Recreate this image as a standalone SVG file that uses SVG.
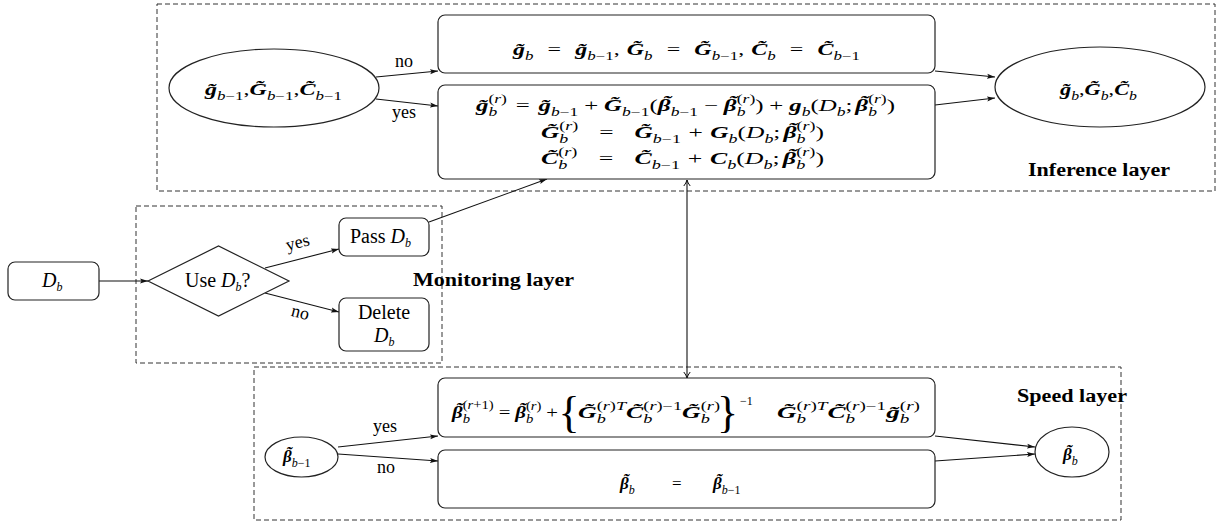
<svg xmlns="http://www.w3.org/2000/svg" width="1217" height="523" viewBox="0 0 1217 523">
<style>
text{font-family:"Liberation Serif","DejaVu Serif",serif;fill:#000}
.m{font-size:17px}
.s{font-size:12px}
.b{font-weight:bold;font-style:italic}
.it{font-style:italic}
.lb{font-size:20px}
.el{font-size:18px}
.ly{font-size:18px;font-weight:bold}
.dash{fill:none;stroke:#333;stroke-width:1;stroke-dasharray:5 3}
.nd{fill:#fff;stroke:#222;stroke-width:1.2}
.cn line{stroke:#111;stroke-width:1.1;marker-end:url(#ah)}
</style>
<defs>
<marker id="ah" viewBox="0 0 8 6" markerWidth="8" markerHeight="6" refX="8" refY="3" orient="auto" markerUnits="userSpaceOnUse"><path d="M0,0.5 L8,3 L0,5.5 L1.6,3 z" fill="#111"/></marker>
<marker id="oa" viewBox="0 0 8 8" markerWidth="8" markerHeight="8" refX="7" refY="4" orient="auto-start-reverse" markerUnits="userSpaceOnUse"><path d="M1,0.8 Q4,3.2 7,4 Q4,4.8 1,7.2" fill="none" stroke="#111" stroke-width="1"/></marker>
</defs>
<rect width="1217" height="523" fill="#fff"/>

<g id="inference-layer">
<rect class="dash" x="157" y="4" width="1058" height="187"/>
<text class="ly" x="1028" y="176" textLength="142" lengthAdjust="spacingAndGlyphs">Inference layer</text>
</g>
<g id="monitoring-layer">
<rect class="dash" x="136" y="206" width="306" height="157"/>
<text class="ly" x="413" y="286" textLength="161" lengthAdjust="spacingAndGlyphs">Monitoring layer</text>
</g>
<g id="speed-layer">
<rect class="dash" x="254" y="367" width="867" height="153"/>
<text class="ly" x="1017" y="402" textLength="110" lengthAdjust="spacingAndGlyphs">Speed layer</text>
</g>

<g class="cn" id="connectors">
<line x1="99" y1="281" x2="148" y2="281"/>
<line x1="265" y1="268" x2="339" y2="249"/>
<line x1="265" y1="293" x2="339" y2="312"/>
<line x1="429" y1="222" x2="547" y2="179"/>
<line x1="376" y1="77" x2="438" y2="71"/>
<line x1="376" y1="99" x2="438" y2="106"/>
<line x1="935" y1="71" x2="995" y2="77"/>
<line x1="935" y1="105" x2="995" y2="98"/>
<line x1="687" y1="180" x2="687" y2="378" style="marker-end:url(#oa);marker-start:url(#oa)"/>
<line x1="338" y1="447" x2="438" y2="436"/>
<line x1="338" y1="454" x2="438" y2="461"/>
<line x1="935" y1="436" x2="1035" y2="447"/>
<line x1="935" y1="461" x2="1035" y2="454"/>
<text class="el" x="395" y="67">no</text>
<text class="el" x="392" y="118">yes</text>
<text class="el" transform="translate(299,248) rotate(-14)" text-anchor="middle">yes</text>
<text class="el" transform="translate(299,318) rotate(14)" text-anchor="middle">no</text>
<text class="el" x="373" y="432">yes</text>
<text class="el" x="377" y="473">no</text>
</g>

<g id="node-db">
<rect class="nd" x="8" y="262" width="91" height="38" rx="7"/>
<text class="lb" x="42" y="287"><tspan class="it">D</tspan><tspan class="s it" y="291">b</tspan></text>
</g>
<g id="node-use">
<polygon class="nd" points="148,281 218.5,246 289,281 218.5,316"/>
<text class="lb" x="185" y="287">Use <tspan class="it">D</tspan><tspan class="s it" y="291">b</tspan><tspan y="287">?</tspan></text>
</g>
<g id="node-pass">
<rect class="nd" x="339" y="218" width="90" height="38" rx="7"/>
<text class="lb" x="350" y="243">Pass <tspan class="it">D</tspan><tspan class="s it" y="247">b</tspan></text>
</g>
<g id="node-delete">
<rect class="nd" x="339" y="298" width="90" height="53" rx="7"/>
<text class="lb" x="384" y="319" text-anchor="middle">Delete</text>
<text class="lb" x="374" y="342"><tspan class="it">D</tspan><tspan class="s it" y="346">b</tspan></text>
</g>

<g id="node-prev-gc">
<ellipse class="nd" cx="274" cy="88" rx="105" ry="39"/>
<text class="m" x="205" y="95" textLength="137" lengthAdjust="spacingAndGlyphs"><tspan class="b">g&#x303;</tspan><tspan class="s" y="99.5"><tspan class="it">b</tspan>−1</tspan><tspan y="95">,</tspan><tspan class="b">G&#x303;</tspan><tspan class="s" y="99.5"><tspan class="it">b</tspan>−1</tspan><tspan y="95">,</tspan><tspan class="b">C&#x303;</tspan><tspan class="s" y="99.5"><tspan class="it">b</tspan>−1</tspan></text>
</g>
<g id="node-keep">
<rect class="nd" x="438" y="15" width="497" height="58" rx="7"/>
<text class="m" x="513" y="55" textLength="347" lengthAdjust="spacingAndGlyphs"><tspan class="b">g&#x303;</tspan><tspan class="s it" y="59.5">b</tspan><tspan y="55" dx="10">=</tspan><tspan class="b" dx="10">g&#x303;</tspan><tspan class="s" y="59.5"><tspan class="it">b</tspan>−1</tspan><tspan y="55">,</tspan><tspan class="b" dx="5">G&#x303;</tspan><tspan class="s it" y="59.5">b</tspan><tspan y="55" dx="10">=</tspan><tspan class="b" dx="10">G&#x303;</tspan><tspan class="s" y="59.5"><tspan class="it">b</tspan>−1</tspan><tspan y="55">,</tspan><tspan class="b" dx="5">C&#x303;</tspan><tspan class="s it" y="59.5">b</tspan><tspan y="55" dx="10">=</tspan><tspan class="b" dx="10">C&#x303;</tspan><tspan class="s" y="59.5"><tspan class="it">b</tspan>−1</tspan></text>
</g>
<g id="node-update">
<rect class="nd" x="438" y="85" width="497" height="94" rx="7"/>
<text class="m" x="476" y="111" textLength="419" lengthAdjust="spacingAndGlyphs"><tspan class="b">g&#x303;</tspan><tspan class="s it" y="115.5">b</tspan><tspan class="s" dx="-6" y="103">(<tspan class="it">r</tspan>)</tspan><tspan y="111" dx="6">=</tspan><tspan class="b" dx="6">g&#x303;</tspan><tspan class="s" y="115.5"><tspan class="it">b</tspan>−1</tspan><tspan y="111" dx="4">+</tspan><tspan class="b" dx="4">G&#x303;</tspan><tspan class="s" y="115.5"><tspan class="it">b</tspan>−1</tspan><tspan y="111">(</tspan><tspan class="b">β</tspan><tspan class="b" dx="-5.6" dy="-4">˜</tspan><tspan class="s" y="115.5"><tspan class="it">b</tspan>−1</tspan><tspan y="111" dx="4">−</tspan><tspan class="b" dx="4">β</tspan><tspan class="b" dx="-5.6" dy="-4">˜</tspan><tspan class="s it" y="115.5">b</tspan><tspan class="s" dx="-6" y="103">(<tspan class="it">r</tspan>)</tspan><tspan y="111">)</tspan><tspan dx="4">+</tspan><tspan class="b" dx="4">g</tspan><tspan class="s it" y="115.5">b</tspan><tspan y="111">(</tspan><tspan class="it">D</tspan><tspan class="s it" y="115.5">b</tspan><tspan y="111">;</tspan><tspan class="b" dx="2">β</tspan><tspan class="b" dx="-5.6" dy="-4">˜</tspan><tspan class="s it" y="115.5">b</tspan><tspan class="s" dx="-6" y="103">(<tspan class="it">r</tspan>)</tspan><tspan y="111">)</tspan></text>
<text class="m" x="541" y="138" textLength="283" lengthAdjust="spacingAndGlyphs"><tspan class="b">G&#x303;</tspan><tspan class="s it" y="142.5">b</tspan><tspan class="s" dx="-6" y="130">(<tspan class="it">r</tspan>)</tspan><tspan y="138" dx="14">=</tspan><tspan class="b" dx="14">G&#x303;</tspan><tspan class="s" y="142.5"><tspan class="it">b</tspan>−1</tspan><tspan y="138" dx="5">+</tspan><tspan class="b" dx="5">G</tspan><tspan class="s it" y="142.5">b</tspan><tspan y="138">(</tspan><tspan class="it">D</tspan><tspan class="s it" y="142.5">b</tspan><tspan y="138">;</tspan><tspan class="b" dx="2">β</tspan><tspan class="b" dx="-5.6" dy="-4">˜</tspan><tspan class="s it" y="142.5">b</tspan><tspan class="s" dx="-6" y="130">(<tspan class="it">r</tspan>)</tspan><tspan y="138">)</tspan></text>
<text class="m" x="541" y="164" textLength="283" lengthAdjust="spacingAndGlyphs"><tspan class="b">C&#x303;</tspan><tspan class="s it" y="168.5">b</tspan><tspan class="s" dx="-6" y="156">(<tspan class="it">r</tspan>)</tspan><tspan y="164" dx="14">=</tspan><tspan class="b" dx="14">C&#x303;</tspan><tspan class="s" y="168.5"><tspan class="it">b</tspan>−1</tspan><tspan y="164" dx="5">+</tspan><tspan class="b" dx="5">C</tspan><tspan class="s it" y="168.5">b</tspan><tspan y="164">(</tspan><tspan class="it">D</tspan><tspan class="s it" y="168.5">b</tspan><tspan y="164">;</tspan><tspan class="b" dx="2">β</tspan><tspan class="b" dx="-5.6" dy="-4">˜</tspan><tspan class="s it" y="168.5">b</tspan><tspan class="s" dx="-6" y="156">(<tspan class="it">r</tspan>)</tspan><tspan y="164">)</tspan></text>
</g>
<g id="node-gc">
<ellipse class="nd" cx="1100" cy="87" rx="105" ry="40"/>
<text class="m" x="1060" y="95" textLength="77" lengthAdjust="spacingAndGlyphs"><tspan class="b">g&#x303;</tspan><tspan class="s it" y="99.5">b</tspan><tspan y="95">,</tspan><tspan class="b">G&#x303;</tspan><tspan class="s it" y="99.5">b</tspan><tspan y="95">,</tspan><tspan class="b">C&#x303;</tspan><tspan class="s it" y="99.5">b</tspan></text>
</g>

<g id="node-beta-prev">
<ellipse class="nd" cx="301.5" cy="457" rx="36.5" ry="20"/>
<text class="m" x="283" y="462"><tspan class="b">β</tspan><tspan class="b" dx="-5.6" dy="-4">˜</tspan><tspan class="s" y="466.5"><tspan class="it">b</tspan>−1</tspan></text>
</g>
<g id="node-newton">
<rect class="nd" x="438" y="378" width="497" height="59" rx="7"/>
<text class="m" x="452" y="418" textLength="106" lengthAdjust="spacingAndGlyphs"><tspan class="b">β</tspan><tspan class="b" dx="-5.6" dy="-4">˜</tspan><tspan class="s it" y="422.5">b</tspan><tspan class="s" dx="-6" y="409">(<tspan class="it">r</tspan>+1)</tspan><tspan y="418" dx="4">=</tspan><tspan class="b" dx="4">β</tspan><tspan class="b" dx="-5.6" dy="-4">˜</tspan><tspan class="s it" y="422.5">b</tspan><tspan class="s" dx="-6" y="410">(<tspan class="it">r</tspan>)</tspan><tspan y="418" dx="4">+</tspan></text>
<text x="558.6" y="427" style="font-size:44px">{</text>
<text class="m" x="578" y="418" textLength="142" lengthAdjust="spacingAndGlyphs"><tspan class="b">G&#x303;</tspan><tspan class="s it" y="422.5">b</tspan><tspan class="s" dx="-6" y="410">(<tspan class="it">r</tspan>)<tspan class="it">T</tspan></tspan><tspan class="b" y="418">C&#x303;</tspan><tspan class="s it" y="422.5">b</tspan><tspan class="s" dx="-6" y="410">(<tspan class="it">r</tspan>)−1</tspan><tspan class="b" y="418">G&#x303;</tspan><tspan class="s it" y="422.5">b</tspan><tspan class="s" dx="-6" y="410">(<tspan class="it">r</tspan>)</tspan></text>
<text x="717" y="427" style="font-size:44px">}</text>
<text class="s" x="740" y="405">−1</text>
<text class="m" x="777" y="418" textLength="143" lengthAdjust="spacingAndGlyphs"><tspan class="b">G&#x303;</tspan><tspan class="s it" y="422.5">b</tspan><tspan class="s" dx="-6" y="410">(<tspan class="it">r</tspan>)<tspan class="it">T</tspan></tspan><tspan class="b" y="418">C&#x303;</tspan><tspan class="s it" y="422.5">b</tspan><tspan class="s" dx="-6" y="410">(<tspan class="it">r</tspan>)−1</tspan><tspan class="b" y="418">g&#x303;</tspan><tspan class="s it" y="422.5">b</tspan><tspan class="s" dx="-6" y="410">(<tspan class="it">r</tspan>)</tspan></text>
</g>
<g id="node-keep-beta">
<rect class="nd" x="438" y="450" width="497" height="58" rx="7"/>
<text class="m"><tspan class="b" x="620" y="489">β</tspan><tspan class="b" dx="-5.6" dy="-4">˜</tspan><tspan class="s it" y="493.5">b</tspan><tspan x="672" y="489">=</tspan><tspan class="b" x="713" y="489">β</tspan><tspan class="b" dx="-5.6" dy="-4">˜</tspan><tspan class="s" y="493.5"><tspan class="it">b</tspan>−1</tspan></text>
</g>
<g id="node-beta">
<ellipse class="nd" cx="1072" cy="452" rx="37" ry="25"/>
<text class="m" x="1063" y="460"><tspan class="b">β</tspan><tspan class="b" dx="-5.6" dy="-4">˜</tspan><tspan class="s it" y="464.5">b</tspan></text>
</g>
</svg>
